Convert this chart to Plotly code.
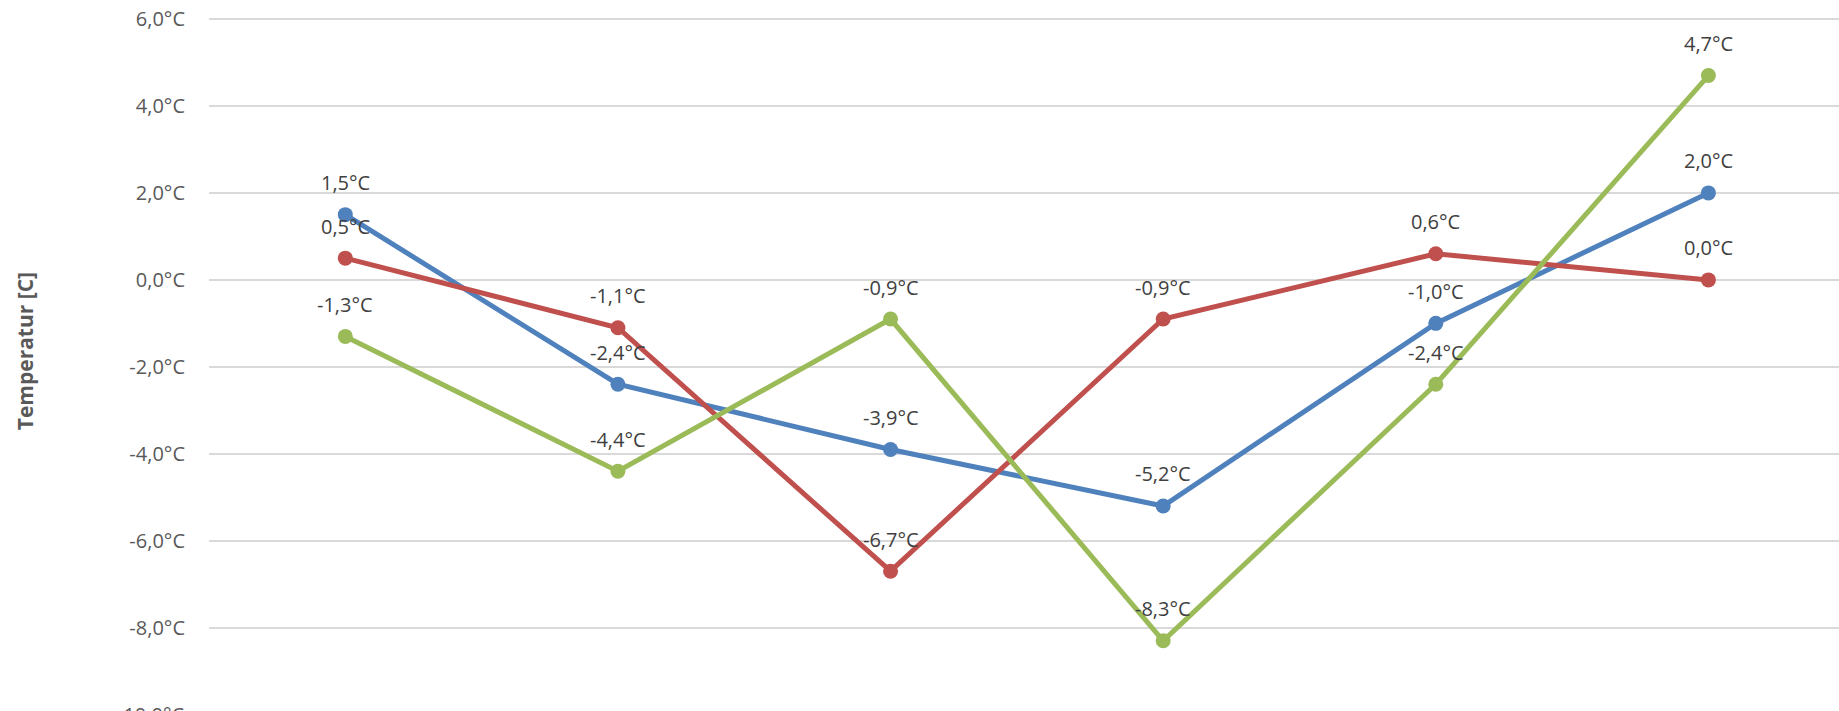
import plotly.graph_objects as go

# Six measurement points, three temperature series (°C)
categories = [1, 2, 3, 4, 5, 6]
series_blue = [1.5, -2.4, -3.9, -5.2, -1.0, 2.0]
series_red = [0.5, -1.1, -6.7, -0.9, 0.6, 0.0]
series_green = [-1.3, -4.4, -0.9, -8.3, -2.4, 4.7]
tick_values = [6, 4, 2, 0, -2, -4, -6, -8]

colors = {"blue": "#4F81BD", "red": "#C0504D", "green": "#9BBB59"}
FONT = "Open Sans"
Y_RANGE = [-9.915, 6.437]
PLOT_HEIGHT = 711


def fmt(v):
    return f"{v:.1f}".replace(".", ",") + "°C"


x_idx = list(range(len(categories)))
fig = go.Figure()

for name, vals in (("blue", series_blue), ("red", series_red), ("green", series_green)):
    fig.add_trace(go.Scatter(
        x=x_idx, y=vals, mode="lines+markers", name=name,
        line=dict(color=colors[name], width=5),
        marker=dict(color=colors[name], size=15),
        cliponaxis=False, hoverinfo="skip",
    ))

annotations = []
for vals in (series_blue, series_red, series_green):
    for i, v in zip(x_idx, vals):
        annotations.append(dict(
            x=i, y=v, xref="x", yref="y", text=fmt(v), showarrow=False,
            yshift=32, yanchor="middle", xanchor="center",
            font=dict(family=FONT, size=20, color="#404040"),
        ))

# Lowest tick label sits just below the plot edge, so place it in paper space
px_per_unit = PLOT_HEIGHT / (Y_RANGE[1] - Y_RANGE[0])
annotations.append(dict(
    x=0, y=0, xref="paper", yref="paper", text=fmt(-10.0), showarrow=False,
    xanchor="right", yanchor="middle", xshift=-23,
    yshift=-(Y_RANGE[0] - (-10.0)) * px_per_unit,
    font=dict(family=FONT, size=20, color="#595959"),
))

# Vertical axis title
annotations.append(dict(
    x=0, y=0.506, xref="paper", yref="paper", text="<b>Temperatur [C]</b>",
    showarrow=False, textangle=-90, xshift=-184, xanchor="center", yanchor="middle",
    font=dict(family=FONT, size=21, color="#595959"),
))

fig.update_layout(
    width=1839, height=PLOT_HEIGHT,
    margin=dict(l=209, r=0, t=0, b=0),
    paper_bgcolor="white", plot_bgcolor="white",
    showlegend=False,
    annotations=annotations,
    xaxis=dict(range=[-0.5, 5.479], showgrid=False, zeroline=False,
               showticklabels=False, ticks="", showline=False),
    yaxis=dict(range=Y_RANGE, tickvals=tick_values,
               ticktext=[fmt(v) for v in tick_values],
               showgrid=True, gridcolor="#D9D9D9", gridwidth=1.5,
               zeroline=False, showline=False, ticks="",
               ticklabelstandoff=23,
               tickfont=dict(family=FONT, size=20, color="#595959")),
)

fig.write_html("out.html")
